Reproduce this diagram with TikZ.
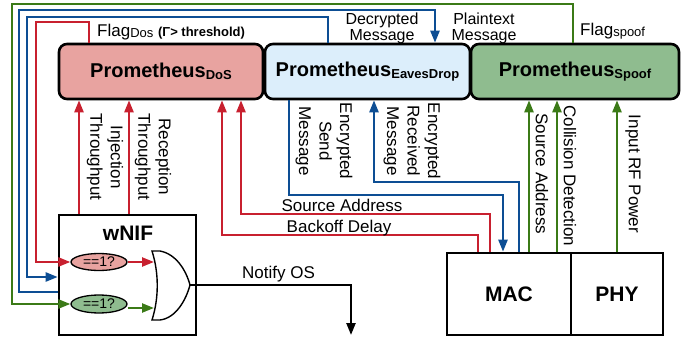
\documentclass[tikz,border=0pt]{standalone}
\usepackage{fontspec}
\setmainfont{Liberation Sans}
\usetikzlibrary{arrows.meta,shapes.geometric,calc}
\definecolor{cred}{HTML}{C8202F}
\definecolor{cblue}{HTML}{0D4E94}
\definecolor{cgreen}{HTML}{3B7A17}
\definecolor{fdos}{HTML}{E8A3A0}
\definecolor{feav}{HTML}{DCEEFB}
\definecolor{fspf}{HTML}{8FBC8F}
\newcommand\promname[1]{{\fontsize{20}{22}\selectfont\bfseries Prometheus\raisebox{-1.5pt}{\fontsize{13}{14}\selectfont #1}}}
\newcommand\smallsub[1]{\raisebox{-1pt}{\fontsize{13}{14}\selectfont #1}}
\begin{document}
\begin{tikzpicture}[x=1pt,y=-1pt,
 promb/.style={draw=black,line width=2.6pt,rounded corners=8pt,minimum height=55pt,inner sep=0pt},
 blk/.style={draw=black,line width=2.6pt,inner sep=0pt,font=\fontsize{21}{21}\selectfont\bfseries},
 wire/.style={line width=2.3pt},
 arr/.style={wire,-{Triangle[length=12pt,width=9pt]}},
 lbl/.style={font=\fontsize{17}{13}\selectfont,inner sep=0pt},
 tlbl/.style={font=\fontsize{16}{15.5}\selectfont,inner sep=0pt,align=center},
 rlbl/.style={font=\fontsize{17}{20.5}\selectfont,inner sep=0pt,rotate=-90,align=center},
 cmp/.style={ellipse,draw=black,line width=1.3pt,minimum width=56pt,minimum height=17pt,inner sep=0pt,font=\fontsize{14}{14}\selectfont},
]
\useasboundingbox (0,0) rectangle (683,337);

% boxes
\node[promb,fill=fdos,minimum width=204pt] (dos) at (161,71.5) {\promname{DoS}};
\node[promb,fill=feav,minimum width=205pt] (eav) at (367.5,71.5) {\promname{EavesDrop}};
\node[promb,fill=fspf,minimum width=208pt] (spf) at (575,71.5) {\promname{Spoof}};
\node[blk,minimum width=137pt,minimum height=120pt] (wnif) at (127.5,275) {};
\node[font=\fontsize{21}{21}\selectfont\bfseries,inner sep=0pt] (wl) at (128,233) {wNIF};
\node[blk,minimum width=124pt,minimum height=82pt] (mac) at (509,294) {MAC};
\node[blk,minimum width=92pt,minimum height=82pt] (phy) at (617,294) {PHY};
\node[cmp,fill=fdos] (e1) at (99,262) {==1?};
\node[cmp,fill=fspf,minimum height=18pt] (e2) at (99,304) {==1?};

% OR gate
\coordinate (gin1) at (154,262);
\coordinate (gin2) at (154,308);
\coordinate (gout) at (190,285);
\coordinate (os) at (351,335);
\draw[line width=1.4pt,fill=white] (152,251) -- (160,251) .. controls (176,254) and (186,270) .. (gout) .. controls (186,300) and (176,318) .. (160,320) -- (152,320) .. controls (159,298) and (159,273) .. (152,251) -- cycle;

% outer feedback loops
\draw[arr,cred] (89,0 |- dos.north) |- (36,22) |- (e1.west);
\draw[arr,cblue] (wnif.west |- 0,292) -| (19,10) -| (435,0 |- eav.north);
\draw[arr,cblue] (328,0 |- eav.north) |- (27,17) |- (wnif.west |- 0,277);
\draw[arr,cgreen] (573,0 |- spf.north) |- (12,4) |- (e2.west);

% comparators to gate
\draw[arr,cred] (e1.east) -- (gin1);
\draw[arr,cgreen] (e2.east |- gin2) -- (gin2);
\draw[arr,black] (gout) -| (os);

% wNIF -> DoS
\draw[arr,cred] (79,0 |- wnif.north) -- (79,0 |- dos.south);
\draw[arr,cred] (129,0 |- wnif.north) -- (129,0 |- dos.south);
% MAC -> DoS
\draw[arr,cred] (490,0 |- mac.north) |- (241,214) -- (241,0 |- dos.south);
\draw[arr,cred] (478,0 |- mac.north) |- (222,235) -- (222,0 |- dos.south);
% EavesDrop <-> MAC
\draw[arr,cblue] (289,0 |- eav.south) |- (503,195) -- (503,0 |- mac.north);
\draw[arr,cblue] (519,0 |- mac.north) |- (374,182) -- (374,0 |- eav.south);
% MAC/PHY -> Spoof
\draw[arr,cgreen] (529,0 |- mac.north) -- (529,0 |- spf.south);
\draw[arr,cgreen] (557,0 |- mac.north) -- (557,0 |- spf.south);
\draw[arr,cgreen] (617,0 |- phy.north) -- (617,0 |- spf.south);

% labels
\node[lbl,anchor=base west] (fdl) at (97,37) {Flag\smallsub{Dos} {\fontsize{13}{14}\selectfont\bfseries (Γ> threshold)}};
\node[tlbl] (dml) at (382,28.5) {Decrypted\\Message};
\node[tlbl] (pml) at (484,28.5) {Plaintext\\Message};
\node[lbl,anchor=base west] (fsl) at (580,36) {Flag\smallsub{spoof}};
\node[rlbl] (itl) at (105,157) {Injection\\Throughput};
\node[rlbl] (rtl) at (153,157) {Reception\\Throughput};
\node[rlbl] (esl) at (324,141) {Encrypted\\Send\\Message};
\node[rlbl] (erl) at (412,141) {Encrypted\\Received\\Message};
\node[rlbl] (sal) at (542,174) {Source Address};
\node[rlbl] (cdl) at (570,176) {Collision Detection};
\node[rlbl] (rfl) at (633,174) {Input RF Power};
\node[lbl,anchor=base] (srl) at (342,211) {Source Address};
\node[lbl,anchor=base] (bdl) at (339,232) {Backoff Delay};
\node[lbl,anchor=base west] (nol) at (242,278) {Notify OS};
\end{tikzpicture}
\end{document}
